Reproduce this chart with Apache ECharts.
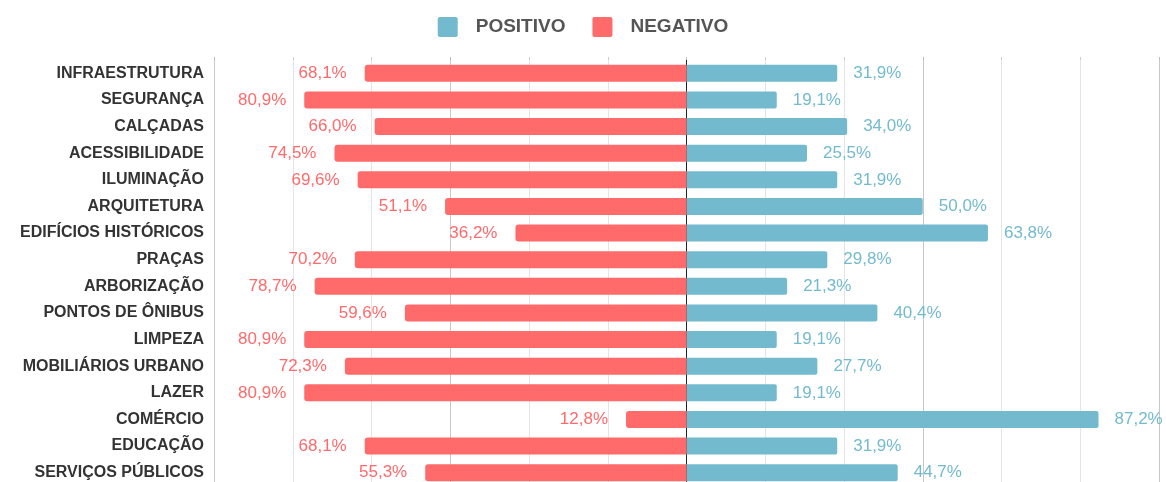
<!DOCTYPE html>
<html lang="pt">
  <head>
    <meta charset="UTF-8" />
    <title>positivo x negativo</title>
    <script src="https://cdn.jsdelivr.net/npm/echarts@6/dist/echarts.min.js"></script>
    <style>
      html, body { margin: 0; padding: 0; background: #fff; overflow: hidden; }
      /* o gráfico original é cortado embaixo, por isso o div é mais alto que a janela */
      #main { width: 1166px; height: 492px; }
    </style>
  </head>
  <body>
    <div id="main"></div>
    <script>
      // categorias (de cima para baixo)
      var categorias = [
        'INFRAESTRUTURA', 'SEGURANÇA', 'CALÇADAS', 'ACESSIBILIDADE', 'ILUMINAÇÃO',
        'ARQUITETURA', 'EDIFÍCIOS HISTÓRICOS', 'PRAÇAS', 'ARBORIZAÇÃO', 'PONTOS DE ÔNIBUS',
        'LIMPEZA', 'MOBILIÁRIOS URBANO', 'LAZER', 'COMÉRCIO', 'EDUCAÇÃO', 'SERVIÇOS PÚBLICOS'
      ];
      var positivo = [31.9, 19.1, 34.0, 25.5, 31.9, 50.0, 63.8, 29.8, 21.3, 40.4, 19.1, 27.7, 19.1, 87.2, 31.9, 44.7];
      var negativo = [68.1, 80.9, 66.0, 74.5, 69.6, 51.1, 36.2, 70.2, 78.7, 59.6, 80.9, 72.3, 80.9, 12.8, 68.1, 55.3];

      var corPos = '#73bacf';
      var corNeg = '#ff6a6b';
      var fonte = '"Liberation Sans", Arial, sans-serif';

      function fmt(p) {
        return Math.abs(p.value).toFixed(1).replace('.', ',') + '%';
      }

      var chart = echarts.init(document.getElementById('main'));
      chart.setOption({
        animation: false,
        legend: {
          data: ['POSITIVO', 'NEGATIVO'],
          top: 12,
          left: 'center',
          itemWidth: 20,
          itemHeight: 20,
          itemGap: 27,
          icon: 'path://M2,0 L18,0 Q20,0 20,2 L20,18 Q20,20 18,20 L2,20 Q0,20 0,18 L0,2 Q0,0 2,0 Z',
          textStyle: {
            fontFamily: fonte,
            fontSize: 19,
            fontWeight: 'bold',
            color: '#555',
            padding: [0, 0, 0, 13]
          }
        },
        grid: { left: 214, right: 7, top: 60, height: 426 },
        xAxis: {
          type: 'value',
          position: 'top',
          min: -100,
          max: 100,
          interval: 50,
          axisLine: { show: false },
          axisLabel: { show: false },
          axisTick: { show: true, length: 3, lineStyle: { color: '#bbb' } },
          minorTick: { show: true, splitNumber: 3, length: 3, lineStyle: { color: '#ccc' } },
          splitLine: { show: true, lineStyle: { color: '#c8c8c8', width: 1 } },
          minorSplitLine: { show: true, lineStyle: { color: '#e4e4e4', width: 1 } }
        },
        yAxis: {
          type: 'category',
          inverse: true,
          data: categorias,
          axisTick: { show: false },
          axisLine: { show: true, onZero: true, lineStyle: { color: '#222', width: 1 } },
          axisLabel: {
            margin: 10,
            fontFamily: fonte,
            fontSize: 16,
            fontWeight: 'bold',
            color: '#333'
          }
        },
        series: [
          {
            name: 'POSITIVO',
            type: 'bar',
            stack: 'total',
            barWidth: 17,
            itemStyle: { color: corPos, borderRadius: [0, 2, 2, 0] },
            label: {
              show: true,
              position: 'right',
              distance: 16,
              formatter: fmt,
              color: corPos,
              fontFamily: fonte,
              fontSize: 17
            },
            data: positivo
          },
          {
            name: 'NEGATIVO',
            type: 'bar',
            stack: 'total',
            barWidth: 17,
            itemStyle: { color: corNeg, borderRadius: [3, 0, 0, 3] },
            label: {
              show: true,
              position: 'left',
              distance: 18,
              formatter: fmt,
              color: corNeg,
              fontFamily: fonte,
              fontSize: 17
            },
            data: negativo.map(function (v) { return -v; })
          }
        ]
      });
    </script>
  </body>
</html>
